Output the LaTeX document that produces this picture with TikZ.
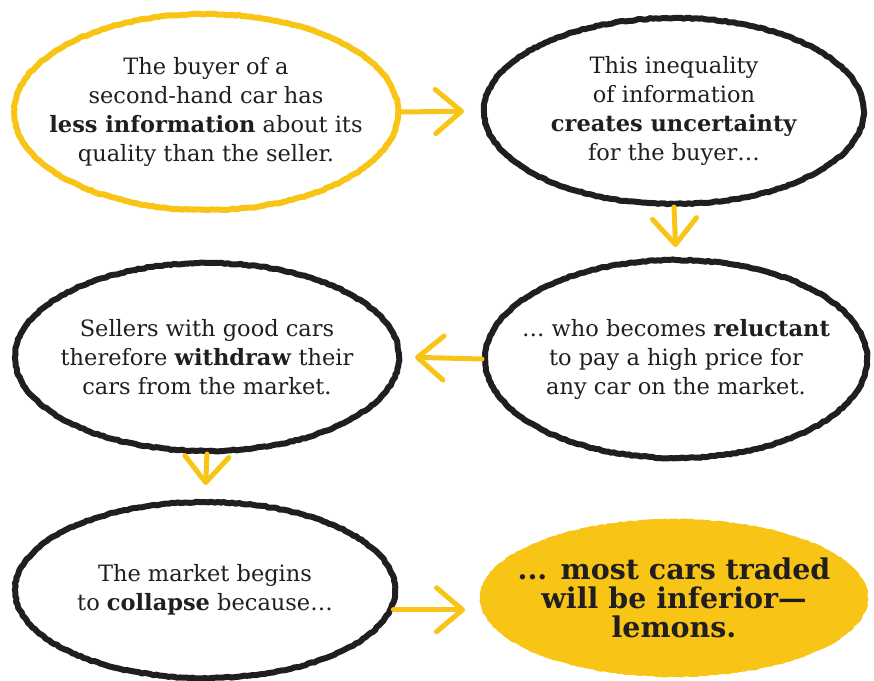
\documentclass[tikz,border=0pt]{standalone}
\usepackage{fontspec}
\setmainfont{DejaVu Serif}
\usepackage{tikz}
\usetikzlibrary{arrows.meta,shapes.geometric,decorations.pathmorphing}
\definecolor{lemon}{RGB}{248,197,22}
\definecolor{ink}{RGB}{32,30,30}
\tikzset{
  bubble/.style={ellipse, draw=ink, line width=6pt, align=center,
                 inner xsep=-80pt, inner ysep=-40pt,
                 font=\fontsize{22.5}{29}\selectfont, text=ink, line join=round,
                 decorate, decoration={random steps, segment length=3pt, amplitude=0.6pt}},
  bubblelemon/.style={bubble, draw=lemon},
  bubblefilled/.style={bubble, draw=none, fill=lemon,
                       font=\fontsize{28.5}{29}\selectfont\bfseries},
  arr/.style={-{Straight Barb[length=26pt,width=44pt,round]}, line width=5pt,
              color=lemon, line cap=round},
}

\begin{document}
\begin{tikzpicture}[x=1pt, y=-1pt]
  \useasboundingbox (0,0) rectangle (874,680);
  % the six steps
  \node[bubblelemon, minimum width=384pt, minimum height=196pt] (info) at (206,112)
       {The buyer of a\\second-hand car has\\\textbf{less information} about its\\quality than the seller.};
  \node[bubble, minimum width=380pt, minimum height=186pt] (doubt) at (674,111)
       {This inequality\\of information\\\textbf{creates uncertainty}\\for the buyer\ldots};
  \node[bubble, minimum width=382pt, minimum height=198pt] (wary) at (676,359)
       {\ldots\ who becomes \textbf{reluctant}\\to pay a high price for\\any car on the market.};
  \node[bubble, minimum width=384pt, minimum height=188pt] (quit) at (207,357)
       {Sellers with good cars\\therefore \textbf{withdraw} their\\cars from the market.};
  \node[bubble, minimum width=380pt, minimum height=176pt] (crash) at (205,590)
       {The market begins\\to \textbf{collapse} because\ldots};
  \node[bubblefilled, minimum width=388pt, minimum height=158pt] (lemons) at (674,598)
       {... most cars traded\\will be inferior---\\lemons.};
  % arrows
  \draw[arr, shorten >=17pt] (info.east) -- (doubt.west);
  \draw[arr, shorten >=10pt] (doubt.south) -- (wary.north);
  \draw[arr, shorten >=13pt] (wary.west) -- (quit.east);
  \draw[arr, shorten >=14pt] (quit.south) -- (crash.north);
  \draw[arr, shorten >=12pt] (crash.-6) -- (crash.-6 -| lemons.west);
\end{tikzpicture}
\end{document}
